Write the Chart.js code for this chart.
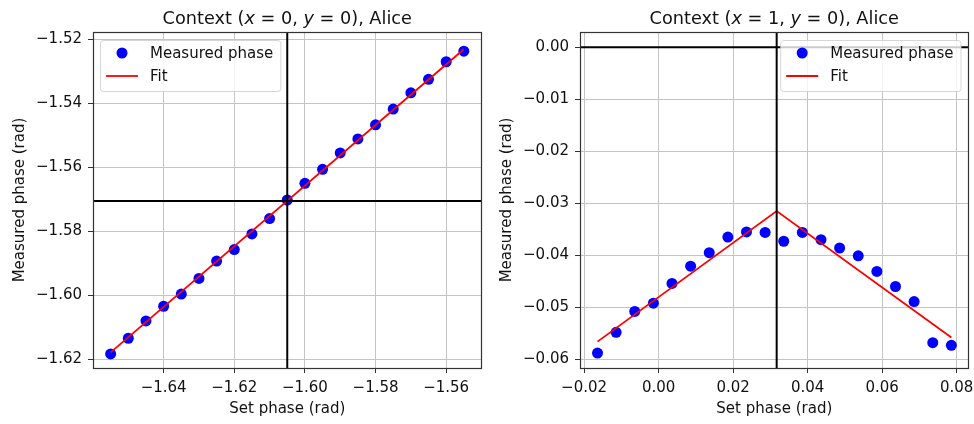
<!DOCTYPE html>
<html>
<head>
<meta charset="utf-8">
<script src="https://cdn.jsdelivr.net/npm/chart.js@4.4.1/dist/chart.umd.min.js"></script>
<style>
  html, body { margin: 0; padding: 0; background: #fff; }
  .panel { position: absolute; top: 0; width: 487px; height: 424px; }
  #panel-a { left: 0; }
  #panel-b { left: 487px; }
</style>
</head>
<body>
<div class="panel" id="panel-a"><canvas id="phase-a" width="487" height="424"></canvas></div>
<div class="panel" id="panel-b"><canvas id="phase-b" width="487" height="424"></canvas></div>
<script>
'use strict';

// Context (x=0, y=0)
var setPhaseA = [-1.655, -1.650, -1.645, -1.640, -1.635, -1.630, -1.625, -1.620, -1.615, -1.610, -1.605,
                 -1.600, -1.595, -1.590, -1.585, -1.580, -1.575, -1.570, -1.565, -1.560, -1.555];
var measPhaseA = [-1.6184, -1.6135, -1.6081, -1.6035, -1.5997, -1.5948, -1.5894, -1.5858, -1.5809, -1.5761, -1.5703,
                  -1.5651, -1.5607, -1.5556, -1.5512, -1.5468, -1.5419, -1.5368, -1.5326, -1.5271, -1.5238];
var fitSetA = [-1.655, -1.555];
var fitPhaseA = [-1.6179, -1.5232];
var crossA = [-1.605, -1.5706];      // vertical / horizontal marker lines
var xRangeA = [-1.66, -1.55];
var yRangeA = [-1.6228, -1.5178];
var xTicksA = [-1.64, -1.62, -1.60, -1.58, -1.56];
var yTicksA = [-1.62, -1.60, -1.58, -1.56, -1.54, -1.52];
var titleA = ['Context (', 'x', ' = 0, ', 'y', ' = 0), Alice'];

// Context (x=1, y=0)
var setPhaseB = [-0.0164, -0.0114, -0.0064, -0.0014, 0.0036, 0.0086, 0.0136, 0.0186, 0.0236, 0.0286,
                 0.0336, 0.0386, 0.0436, 0.0486, 0.0536, 0.0586, 0.0636, 0.0686, 0.0736, 0.0786];
var measPhaseB = [-0.0588, -0.0548, -0.0508, -0.0492, -0.0454, -0.0421, -0.0395, -0.0365, -0.0355, -0.0356,
                  -0.0373, -0.0356, -0.0370, -0.0386, -0.0401, -0.0431, -0.0460, -0.0489, -0.0568, -0.0573];
var fitSetB = [-0.0164, 0.0317, 0.0786];
var fitPhaseB = [-0.0566, -0.0315, -0.0558];
var crossB = [0.0317, 0];
var xRangeB = [-0.0211, 0.0832];
var yRangeB = [-0.06167, 0.00293];
var xTicksB = [-0.02, 0.00, 0.02, 0.04, 0.06, 0.08];
var yTicksB = [-0.06, -0.05, -0.04, -0.03, -0.02, -0.01, 0.00];
var titleB = ['Context (', 'x', ' = 1, ', 'y', ' = 0), Alice'];

var FONT = 'DejaVu Sans';
var TEXT = '#111';
var font = { family: FONT, size: 15 };

function pairs(xs, ys) {
    return xs.map(function (x, i) { return { x: x, y: ys[i] }; });
}

function fmt(v) {
    return v.toFixed(2).replace('-', '\u2212');
}

// title with italic x / y, drawn above the plot area
function titlePlugin(parts) {
    return {
        id: 'panelTitle',
        afterDraw: function (chart) {
            var ctx = chart.ctx, area = chart.chartArea;
            ctx.save();
            ctx.fillStyle = TEXT;
            ctx.textBaseline = 'alphabetic';
            var widths = parts.map(function (t, i) {
                ctx.font = (i % 2 ? 'italic ' : '') + '17.7px "' + FONT + '"';
                return ctx.measureText(t).width;
            });
            var total = widths.reduce(function (a, b) { return a + b; }, 0);
            var x = (area.left + area.right) / 2 - total / 2;
            parts.forEach(function (t, i) {
                ctx.font = (i % 2 ? 'italic ' : '') + '17.7px "' + FONT + '"';
                ctx.fillText(t, x, 24);
                x += widths[i];
            });
            ctx.restore();
        }
    };
}

// axes frame on all four sides
var framePlugin = {
    id: 'frame',
    afterDatasetsDraw: function (chart) {
        var ctx = chart.ctx, a = chart.chartArea;
        ctx.save();
        ctx.strokeStyle = '#333';
        ctx.lineWidth = 1.2;
        ctx.strokeRect(Math.round(a.left) + 0.5, Math.round(a.top) + 0.5,
            Math.round(a.right - a.left) - 1, Math.round(a.bottom - a.top));
        ctx.restore();
    }
};

// boxed legend inside the plot area
function legendPlugin(anchor) {
    return {
        id: 'boxLegend',
        afterDraw: function (chart) {
            var ctx = chart.ctx, a = chart.chartArea;
            var items = chart.data.datasets.filter(function (d) { return d.label; }).reverse();
            ctx.save();
            ctx.font = '15px "' + FONT + '"';
            var tw = Math.max.apply(null, items.map(function (d) { return ctx.measureText(d.label).width; }));
            var w = 50 + tw + 7, h = 51;
            var x0 = anchor === 'left' ? a.left + 7 : a.right - 8 - w;
            var y0 = a.top + 8;
            ctx.beginPath();
            ctx.roundRect(x0 + 0.5, y0 + 0.5, w, h, 3);
            ctx.fillStyle = 'rgba(255,255,255,0.8)';
            ctx.fill();
            ctx.strokeStyle = 'rgba(204,204,204,0.8)';
            ctx.lineWidth = 1;
            ctx.stroke();
            items.forEach(function (d, i) {
                var cy = y0 + 13 + i * 23;
                if (d.showLine) {
                    ctx.strokeStyle = d.borderColor;
                    ctx.lineWidth = d.borderWidth;
                    ctx.beginPath();
                    ctx.moveTo(x0 + 6, cy);
                    ctx.lineTo(x0 + 38, cy);
                    ctx.stroke();
                } else {
                    ctx.fillStyle = d.backgroundColor;
                    ctx.beginPath();
                    ctx.arc(x0 + 22, cy, d.pointRadius, 0, Math.PI * 2);
                    ctx.fill();
                }
                ctx.fillStyle = TEXT;
                ctx.textBaseline = 'middle';
                ctx.fillText(d.label, x0 + 50, cy + 1);
            });
            ctx.restore();
        }
    };
}

function makePanel(id, p) {
    return new Chart(document.getElementById(id), {
        type: 'scatter',
        data: {
            datasets: [
                {
                    label: '',
                    data: pairs(p.xRange, [p.cross[1], p.cross[1]]),
                    showLine: true, borderColor: '#000', borderWidth: 2, pointRadius: 0, order: 1
                },
                {
                    label: '',
                    data: pairs([p.cross[0], p.cross[0]], p.yRange),
                    showLine: true, borderColor: '#000', borderWidth: 2, pointRadius: 0, order: 1
                },
                {
                    label: 'Fit',
                    data: pairs(p.fitX, p.fitY),
                    showLine: true, borderColor: '#ff0000', borderWidth: 1.8, pointRadius: 0, order: 2
                },
                {
                    label: 'Measured phase',
                    data: pairs(p.setX, p.measY),
                    showLine: false, backgroundColor: '#0000ff', borderColor: '#0000ff',
                    borderWidth: 0, pointRadius: 5.5, order: 3
                }
            ]
        },
        options: {
            responsive: false,
            animation: false,
            layout: { padding: { left: 0, right: 5, top: 32, bottom: 0 } },
            plugins: {
                legend: { display: false },
                tooltip: { enabled: false }
            },
            scales: {
                x: {
                    type: 'linear',
                    min: p.xRange[0],
                    max: p.xRange[1],
                    afterFit: function (s) {
                        s.height = 56;
                        s.paddingLeft = 0;
                        s.paddingRight = 0;
                    },
                    afterBuildTicks: function (s) { s.ticks = p.xTicks.map(function (v) { return { value: v }; }); },
                    grid: { color: '#c4c4c4', lineWidth: 1, tickLength: 5, tickColor: '#333' },
                    border: { display: false },
                    ticks: { callback: fmt, padding: 6, font: font, color: TEXT, maxRotation: 0, autoSkip: false },
                    title: { display: true, text: 'Set phase (rad)', font: font, color: TEXT, padding: { bottom: 6 } }
                },
                y: {
                    type: 'linear',
                    min: p.yRange[0],
                    max: p.yRange[1],
                    afterFit: function (s) {
                        s.width = 93;
                        s.paddingTop = 0;
                        s.paddingBottom = 0;
                    },
                    afterBuildTicks: function (s) { s.ticks = p.yTicks.map(function (v) { return { value: v }; }); },
                    grid: { color: '#c4c4c4', lineWidth: 1, tickLength: 5, tickColor: '#333' },
                    border: { display: false },
                    ticks: { callback: fmt, padding: 6, font: font, color: TEXT, autoSkip: false },
                    title: { display: true, text: 'Measured phase (rad)', font: font, color: TEXT, padding: { top: 11 } }
                }
            }
        },
        plugins: [framePlugin, titlePlugin(p.title), legendPlugin(p.legend)]
    });
}

makePanel('phase-a', {
    setX: setPhaseA, measY: measPhaseA, fitX: fitSetA, fitY: fitPhaseA, cross: crossA,
    xRange: xRangeA, yRange: yRangeA, xTicks: xTicksA, yTicks: yTicksA, title: titleA, legend: 'left'
});
makePanel('phase-b', {
    setX: setPhaseB, measY: measPhaseB, fitX: fitSetB, fitY: fitPhaseB, cross: crossB,
    xRange: xRangeB, yRange: yRangeB, xTicks: xTicksB, yTicks: yTicksB, title: titleB, legend: 'right'
});
</script>
</body>
</html>
